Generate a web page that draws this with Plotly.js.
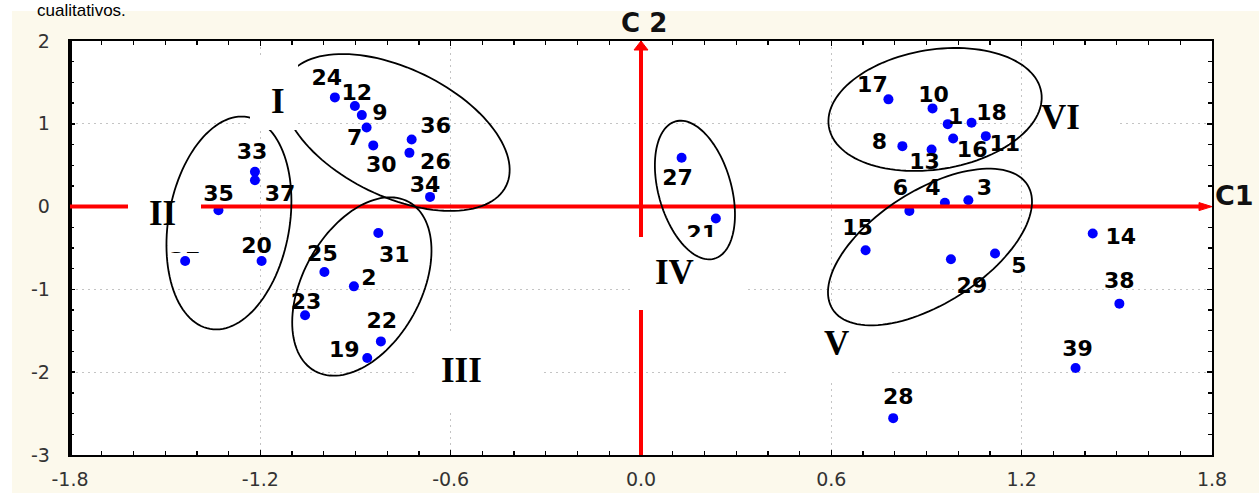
<!DOCTYPE html>
<html><head><meta charset="utf-8">
<script src="https://cdn.plot.ly/plotly-3.0.1.min.js"></script>
<style>html,body{margin:0;padding:0;background:#fff;}#chart{width:1259px;height:493px;}</style>
</head><body><div id="chart"></div>
<script>
// ---- data ----
const pointIds = ["1","2","3","4","5","6","7","8","9","10","11","12","13","14","15","16","17","18","19","20",
  "21","22","23","24","25","26","27","28","29","30","31","32","33","34","35","36","37","38","39"];
const c1Values = [0.967,-0.905,1.032,0.958,1.116,0.846,-0.865,0.824,-0.880,0.919,1.087,-0.902,0.916,1.424,0.708,0.984,0.780,1.042,-0.863,-1.196,
  0.236,-0.820,-1.059,-0.965,-0.998,-0.730,0.128,0.795,0.977,-0.844,-0.828,-1.437,-1.217,-0.665,-1.332,-0.723,-1.217,1.508,1.370];
const c2Values = [0.996,-0.963,0.077,0.045,-0.567,-0.052,0.956,0.730,1.105,1.186,0.851,1.214,0.690,-0.325,-0.527,0.823,1.295,1.012,-1.829,-0.657,
  -0.144,-1.628,-1.313,1.319,-0.790,0.649,0.589,-2.555,-0.636,0.739,-0.318,-0.657,0.420,0.117,-0.044,0.811,0.319,-1.172,-1.950];
const xTickVals = [-1.8,-1.2,-0.6,0,0.6,1.2,1.8];
const xTickText = ["-1.8","-1.2","-0.6","0.0","0.6","1.2","1.8"];
const yTickVals = [-3,-2,-1,0,1,2];
const yTickText = ["-3","-2","-1","0","1","2"];
const groupNames = ["I","II","III","IV","V","VI"];

// ---- label placement (pixel offsets from each point) ----
const labelDx = [8,15,16,-12,24,-9,-12,-23,18,1,19,2,-7,28,-8,19,-16,20,-23,-5,
  -14,1,1,-8,-2,26,-4,5,21,8,16,0,-3,-5,0,24,25,0,2];
const labelDy = [-6,-7,-11,-13,14,-21,12,-3,-1,-12,9,-12,14,5,-21,13,-13,-8,-7,-14,
  17,-19,-12,-18,-17,11,22,-20,28,21,24,-14,-18,-10,-15,-12,15,-21,-18];

// ---- layout geometry ----
const W=1259,H=493,L=70,R=47,T=41,B=38;
const XR=[-1.8,1.8], YR=[-3,2];
const pw=W-L-R, ph=H-T-B;
const sx=pw/(XR[1]-XR[0]), sy=ph/(YR[1]-YR[0]);
const px2x = p => XR[0] + (p-L)/sx;
const py2y = p => YR[1] - (p-T)/sy;
const pxp = p => (p-L)/pw;          // pixel -> paper x
const pyp = p => (H-B-p)/ph;        // pixel -> paper y

const labX = c1Values.map((v,i)=> v + labelDx[i]/sx);
const labY = c2Values.map((v,i)=> v - labelDy[i]/sy);

// ellipses: centre in data units, semi-axes in px, rotation in degrees (screen)
const ellipses = [
  {cx:-0.771, cy:0.895, a:122, b:64, ang:25.9},
  {cx:-1.299, cy:-0.198, a:107.6, b:60.5, ang:-79.9},
  {cx:-0.880, cy:-0.965, a:96.7, b:58.8, ang:-60.9},
  {cx:0.170, cy:0.200, a:71.3, b:36.4, ang:74.2},
  {cx:0.911, cy:-0.488, a:115.6, b:56.4, ang:-32.6},
  {cx:0.927, cy:1.173, a:107.6, b:59.8, ang:-9.2}
];
function ellipsePath(e){
  const f=e.ang*Math.PI/180, n=120; let d='';
  for(let k=0;k<=n;k++){
    const t=2*Math.PI*k/n;
    const dx=e.a*Math.cos(t)*Math.cos(f)-e.b*Math.sin(t)*Math.sin(f);
    const dy=e.a*Math.cos(t)*Math.sin(f)+e.b*Math.sin(t)*Math.cos(f);
    d += (k?'L':'M') + (e.cx+dx/sx).toFixed(5)+','+(e.cy-dy/sy).toFixed(5);
  }
  return d+'Z';
}
// white label boxes in pixels [x0,y0,x1,y1]
const boxes = {
  I:[250,58,298,130], II:[128,175,201,252], III:[415,333,540,410],
  IV:[633,237,745,310], V:[790,308,890,383], VI:[1040,80,1117,155]
};
const boxShape = b => ({type:'rect', xref:'x', yref:'y', layer:'above',
  x0:px2x(b[0]), x1:px2x(b[2]), y0:py2y(b[3]), y1:py2y(b[1]),
  fillcolor:'#ffffff', line:{width:0}});
// roman numeral centres in pixels
const romanPos = {I:[278,101], II:[162,213], III:[461,370], IV:[674,272], V:[836,343], VI:[1060,117]};

const red='#ff0000';
const shapes = [
  {type:'rect', xref:'paper', yref:'paper', layer:'below', x0:-0.2, x1:1.2, y0:pyp(11), y1:1.3, fillcolor:'#ffffff', line:{width:0}},
  {type:'rect', xref:'paper', yref:'paper', layer:'below', x0:-0.2, x1:pxp(12), y0:-0.3, y1:1.3, fillcolor:'#ffffff', line:{width:0}},
  {type:'line', xref:'paper', yref:'paper', layer:'above', x0:0, x1:0, y0:0, y1:1, line:{color:'#000', width:4}},
  {type:'line', xref:'x', yref:'y', layer:'above', x0:XR[0], x1:px2x(W-R-12), y0:0, y1:0, line:{color:red, width:4}},
  {type:'path', xref:'x', yref:'y', layer:'above', fillcolor:red, line:{color:red,width:1},
    path:`M${XR[1]},0L${px2x(W-R-13)},${4/sy}L${px2x(W-R-13)},${-4/sy}Z`},
  {type:'line', xref:'x', yref:'y', layer:'above', x0:0, x1:0, y0:YR[0], y1:py2y(T+8), line:{color:red, width:4}},
  {type:'path', xref:'x', yref:'y', layer:'above', fillcolor:red, line:{color:red,width:1},
    path:`M0,${YR[1]}L${-7/sx},${py2y(T+9)}L${7/sx},${py2y(T+9)}Z`},
  boxShape(boxes.II), boxShape(boxes.III), boxShape(boxes.IV), boxShape(boxes.V), boxShape(boxes.VI)
];
ellipses.forEach(e=>shapes.push({type:'path', xref:'x', yref:'y', layer:'above', path:ellipsePath(e), line:{color:'#000', width:1.8}}));
shapes.push(boxShape(boxes.I));

const annotations = groupNames.map(g=>({
  xref:'x', yref:'y', x:px2x(romanPos[g][0]), y:py2y(romanPos[g][1]), text:g, showarrow:false,
  xanchor:'center', yanchor:'middle',
  font:{family:'Liberation Serif, Times New Roman, serif', size:35, color:'#000', weight:'bold'}
}));
annotations.push({xref:'paper', yref:'paper', x:pxp(644), y:pyp(23), text:'C 2', showarrow:false,
  xanchor:'center', yanchor:'middle', font:{family:'DejaVu Sans', size:26, color:'#111', weight:'bold'}});
annotations.push({xref:'paper', yref:'paper', x:pxp(1234), y:pyp(195), text:'C1', showarrow:false,
  xanchor:'center', yanchor:'middle', font:{family:'DejaVu Sans', size:27, color:'#111', weight:'bold'}});
annotations.push({xref:'paper', yref:'paper', x:pxp(36), y:pyp(0), text:'cualitativos.', showarrow:false,
  xanchor:'left', yanchor:'top', borderpad:0, font:{family:'Liberation Sans, Arial', size:17, color:'#000'}});

const axisCommon = {
  showline:true, linecolor:'#000', linewidth:2.3, mirror:'allticks',
  ticks:'inside', ticklen:5, tickwidth:1.5, tickcolor:'#000',
  showgrid:true, gridcolor:'#c4c4c4', gridwidth:1, griddash:'2px,4px',
  zeroline:false, tickmode:'array',
  tickfont:{family:'DejaVu Sans', size:19, color:'#333'}
};
const layout = {
  width:W, height:H, margin:{l:L, r:R, t:T, b:B, pad:0},
  paper_bgcolor:'#fcf9ec', plot_bgcolor:'#ffffff', showlegend:false,
  xaxis:Object.assign({}, axisCommon, {range:XR, tickvals:xTickVals, ticktext:xTickText, ticklabelstandoff:6,
    minor:{tickmode:'linear', tick0:-1.8, dtick:0.1, ticks:'inside', ticklen:4, tickwidth:1.3, tickcolor:'#000', showgrid:false}}),
  yaxis:Object.assign({}, axisCommon, {range:YR, tickvals:yTickVals, ticktext:yTickText, ticklabelstandoff:14,
    minor:{tickmode:'linear', tick0:-3, dtick:0.25, ticks:'inside', ticklen:4, tickwidth:1.3, tickcolor:'#000', showgrid:false}}),
  shapes:shapes, annotations:annotations, hovermode:false
};
const traces = [
  {type:'scatter', mode:'markers', x:c1Values, y:c2Values, marker:{color:'#0000ff', size:10, line:{width:0}}, hoverinfo:'skip'},
  {type:'scatter', mode:'text', x:labX, y:labY, text:pointIds, textposition:'middle center',
    textfont:{family:'DejaVu Sans', size:22, color:'#000', weight:'bold'}, hoverinfo:'skip'}
];
Plotly.newPlot('chart', traces, layout, {staticPlot:true, displayModeBar:false});
</script></body></html>
